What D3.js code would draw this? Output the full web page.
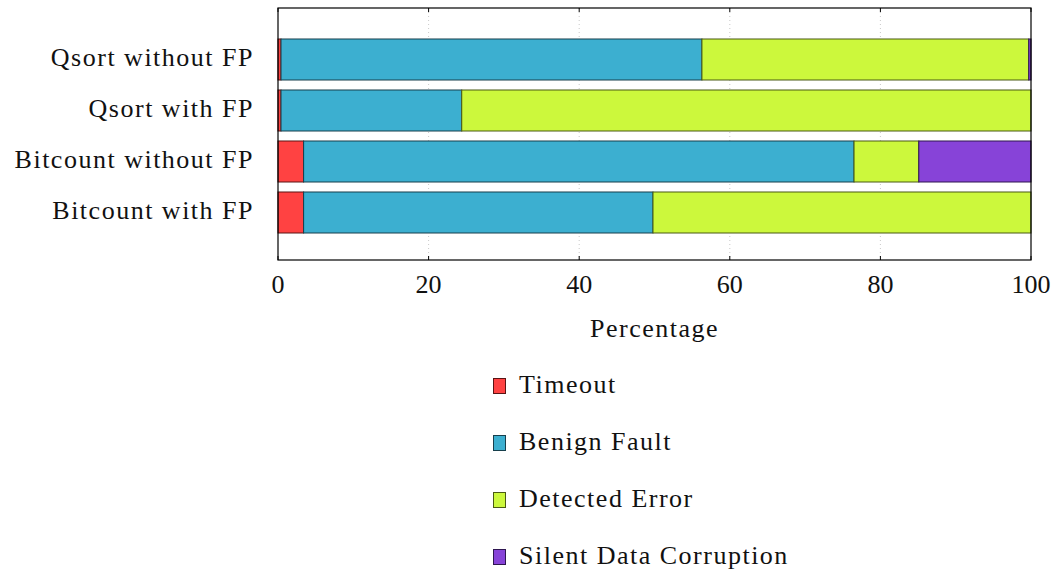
<!DOCTYPE html>
<html>
<head>
<meta charset="utf-8">
<script src="https://cdn.jsdelivr.net/npm/d3@7"></script>
<style>
  body { margin: 0; background: #fff; }
  svg text { font-family: "Liberation Serif", "DejaVu Serif", serif; fill: #111; font-size: 26px; }
  .word { letter-spacing: 1.5px; }
</style>
</head>
<body>
<svg id="chart" width="1055" height="572"></svg>
<script>
// Outcome shares (percent) per benchmark configuration
const categories = ["Qsort without FP", "Qsort with FP", "Bitcount without FP", "Bitcount with FP"];
const seriesNames = ["Timeout", "Benign Fault", "Detected Error", "Silent Data Corruption"];
const timeout   = [0.4, 0.4, 3.4, 3.4];
const benign    = [55.9, 24.0, 73.1, 46.4];
const detected  = [43.4, 75.6, 8.6, 50.2];
const sdc       = [0.3, 0.0, 14.9, 0.0];
const xTicks    = [0, 20, 40, 60, 80, 100];
const colors    = ["#ff4242", "#3cafd0", "#ccf83c", "#8743d8"];
const strokes   = ["#5a1414", "#173f4c", "#4a5a14", "#2e1650"];

const svg = d3.select("#chart");
const plotL = 278, plotR = 1031, plotT = 8, plotB = 260;

const x = d3.scaleLinear().domain([0, 100]).range([plotL, plotR]);
const y = d3.scaleBand().domain(categories).range([34, 238]).paddingInner(0.196).paddingOuter(0.098);

// Grid lines
svg.append("g").selectAll("line").data(xTicks.filter(d => d > 0 && d < 100)).join("line")
  .attr("x1", d => x(d)).attr("x2", d => x(d)).attr("y1", plotT).attr("y2", plotB)
  .attr("stroke", "#bbb").attr("stroke-width", 0.8).attr("stroke-dasharray", "1,3");

// Stacked bars
const rows = categories.map((c, i) => ({ cat: c, Timeout: timeout[i], "Benign Fault": benign[i], "Detected Error": detected[i], "Silent Data Corruption": sdc[i] }));
const stacked = d3.stack().keys(seriesNames)(rows);

stacked.forEach((layer, k) => {
  svg.append("g").selectAll("rect").data(layer.filter(d => d[1] - d[0] > 0)).join("rect")
    .attr("x", d => x(d[0])).attr("width", d => x(d[1]) - x(d[0]))
    .attr("y", d => y(d.data.cat)).attr("height", y.bandwidth())
    .attr("fill", colors[k]).attr("stroke", strokes[k]).attr("stroke-width", 1);
});

// Axis frame
svg.append("rect").attr("x", plotL).attr("y", plotT).attr("width", plotR - plotL).attr("height", plotB - plotT)
  .attr("fill", "none").attr("stroke", "#000").attr("stroke-width", 1.2);

// Tick marks (inside, top and bottom)
const tk = svg.append("g");
xTicks.forEach(t => {
  tk.append("line").attr("x1", x(t)).attr("x2", x(t)).attr("y1", plotB).attr("y2", plotB - 4).attr("stroke", "#000");
  tk.append("line").attr("x1", x(t)).attr("x2", x(t)).attr("y1", plotT).attr("y2", plotT + 4).attr("stroke", "#000");
});

// X tick labels
svg.append("g").selectAll("text").data(xTicks).join("text")
  .attr("x", d => x(d)).attr("y", 293).attr("text-anchor", "middle")
  .text(d => d);

// Category labels
svg.append("g").selectAll("text").data(categories).join("text")
  .attr("class", "word")
  .attr("x", 254).attr("y", d => y(d) + y.bandwidth() / 2 + 6)
  .attr("text-anchor", "end").text(d => d);

// Axis title
svg.append("text").attr("class", "word").attr("x", (plotL + plotR) / 2).attr("y", 337).attr("text-anchor", "middle")
  .text("Percentage");

// Legend
const ly = d3.scalePoint().domain(seriesNames).range([393, 564]);
const lg = svg.append("g").selectAll("g").data(seriesNames).join("g")
  .attr("transform", d => `translate(0,${ly(d)})`);
lg.append("rect").attr("x", 493.5).attr("y", -14.5).attr("width", 12).attr("height", 15)
  .attr("fill", (d, i) => colors[i]).attr("stroke", (d, i) => strokes[i]).attr("stroke-width", 1);
lg.append("text").attr("class", "word").attr("x", 519).attr("y", 0).text(d => d);
</script>
</body>
</html>
